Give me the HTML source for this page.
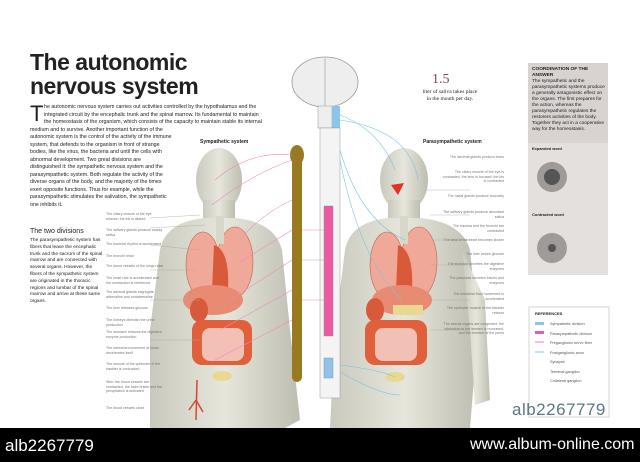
<!DOCTYPE html>
<html><head><meta charset="utf-8"><style>
body{margin:0;width:640px;height:462px;overflow:hidden;background:#fff;font-family:"Liberation Sans",sans-serif;position:relative}
.t{position:absolute;color:#222}
.l{position:absolute;font-size:3.6px;line-height:4.6px;color:#777}
</style></head><body>
<svg width="640" height="462" style="position:absolute;left:0;top:0">
<defs>
<linearGradient id="sk" x1="0" x2="1"><stop offset="0" stop-color="#c9c9bd"/><stop offset=".5" stop-color="#e6e6dc"/><stop offset="1" stop-color="#bdbdb0"/></linearGradient>
</defs>
<g fill="url(#sk)">
<ellipse cx="219" cy="180" rx="23" ry="32"/>
<rect x="203" y="200" width="32" height="30"/>
<path d="M160 250 Q165 222 205 218 L235 218 Q275 222 282 250 L290 330 L300 420 L285 428 L150 428 L150 330 Z"/>
</g>
<g fill="url(#sk)">
<ellipse cx="404" cy="180" rx="24" ry="32"/>
<rect x="388" y="200" width="32" height="30"/>
<path d="M345 250 Q350 222 388 218 L420 218 Q462 222 470 250 L478 330 L470 428 L330 428 L335 330 Z"/>
<path d="M462 250 L485 300 L490 400 L475 405 L470 330Z"/>
</g>
<ellipse cx="203" cy="265" rx="17" ry="33" fill="#f0a898" stroke="#c06050" stroke-width=".6"/>
<ellipse cx="235" cy="262" rx="18" ry="35" fill="#f0a898" stroke="#c06050" stroke-width=".6"/>
<path d="M214 245 Q230 250 228 290 L212 290Z" fill="#d85a3a"/>
<rect x="216" y="216" width="8" height="28" fill="#d8d8c8"/>
<ellipse cx="213" cy="300" rx="30" ry="15" fill="#e98a72"/>
<ellipse cx="199" cy="310" rx="9" ry="12" fill="#d85a3a"/>
<rect x="192" y="320" width="60" height="45" rx="10" fill="#e0603c"/>
<rect x="202" y="328" width="42" height="33" rx="8" fill="#f2c0b4"/>
<ellipse cx="222" cy="376" rx="10" ry="5" fill="#e8d890"/>
<path d="M197 380 L196 420 M196 400 L189 410 M196 400 L203 412" stroke="#d04a30" stroke-width="1.5"/>
<ellipse cx="387" cy="265" rx="17" ry="33" fill="#f0a898" stroke="#c06050" stroke-width=".6"/>
<ellipse cx="419" cy="262" rx="18" ry="35" fill="#f0a898" stroke="#c06050" stroke-width=".6"/>
<path d="M398 245 Q414 250 412 290 L396 290Z" fill="#d85a3a"/>
<rect x="400" y="216" width="8" height="28" fill="#d8d8c8"/>
<ellipse cx="402" cy="300" rx="30" ry="15" fill="#e98a72"/>
<ellipse cx="375" cy="310" rx="9" ry="12" fill="#d85a3a"/>
<rect x="393" y="305" width="30" height="10" fill="#e8d890"/>
<rect x="365" y="320" width="62" height="45" rx="10" fill="#e0603c"/>
<rect x="375" y="328" width="42" height="33" rx="8" fill="#f2c0b4"/>
<ellipse cx="395" cy="377" rx="10" ry="5" fill="#e8d890"/>
<path d="M391 185 L404 183 L398 195Z" fill="#e83020"/>
<ellipse cx="325" cy="82" rx="33" ry="25" fill="#eee" stroke="#999" stroke-width=".8"/>
<path d="M325 58 L325 106" stroke="#999" stroke-width=".6"/>
<rect x="318" y="106" width="14" height="22" fill="#eee" stroke="#999" stroke-width=".5"/>
<rect x="332" y="106" width="8" height="22" fill="#8cc4ea"/>
<g stroke="#888" stroke-width=".4">
<rect x="320" y="128" width="20" height="270" fill="#f4f4f4"/>
<rect x="324" y="206" width="9" height="130" fill="#ee5aa0"/>
<rect x="324" y="358" width="9" height="20" fill="#8cc4ea"/>
</g>
<rect x="292" y="146" width="10" height="236" rx="5" fill="#9a7a20"/>
<ellipse cx="297" cy="155" rx="7" ry="10" fill="#9a7a20"/>
<g fill="none" stroke="#f08ac0" stroke-width=".6">
<path d="M292 155 Q250 150 215 180"/><path d="M292 160 Q250 175 212 205"/>
<path d="M292 200 Q260 215 240 240"/><path d="M292 230 L240 262"/>
<path d="M292 260 L230 300"/><path d="M292 290 L220 330"/><path d="M292 320 L215 360"/>
<path d="M302 230 L324 230"/><path d="M302 260 L324 260"/><path d="M302 300 L324 300"/>
</g>
<g fill="none" stroke="#7ac4e4" stroke-width=".6">
<path d="M340 115 Q380 130 395 170"/><path d="M340 120 Q410 130 418 180"/>
<path d="M340 150 Q360 220 405 240"/><path d="M340 160 Q360 260 402 300"/>
<path d="M340 365 Q380 370 395 377"/><path d="M340 372 Q380 395 400 395"/>
</g>
<g stroke="#aaa" stroke-width=".4">
<path d="M150 218 L200 215"/><path d="M150 228 L205 225"/><path d="M150 245 L200 250"/>
<path d="M150 270 L195 270"/><path d="M150 300 L200 300"/><path d="M150 340 L200 340"/>
<path d="M425 190 L470 190"/><path d="M430 215 L470 215"/><path d="M430 240 L470 240"/>
<path d="M430 265 L470 265"/><path d="M430 300 L470 300"/><path d="M430 330 L470 330"/>
</g>
<rect x="528" y="63" width="80" height="212" fill="#e4e0de"/>
<rect x="528" y="63" width="80" height="80" fill="#d8d2d0"/>
<circle cx="552" cy="177" r="15" fill="#a09a98"/><circle cx="552" cy="177" r="8" fill="#555"/>
<circle cx="552" cy="248" r="15" fill="#a09a98"/><circle cx="552" cy="248" r="4" fill="#555"/>
<rect x="529" y="307" width="80" height="110" fill="#fff" stroke="#bbb" stroke-width=".6"/>
<rect x="535" y="322" width="9" height="3" fill="#8cc4ea"/>
<rect x="535" y="331" width="9" height="3" fill="#ee5aa0"/>
<rect x="535" y="341" width="9" height="2" fill="#f9c0dc"/>
<rect x="535" y="351" width="9" height="2" fill="#bde6f4"/>
<rect x="0" y="428" width="640" height="34" fill="#000"/>
</svg>
<div class="t" style="left:30px;top:50px;font-size:23px;font-weight:bold;line-height:24px;letter-spacing:-.5px">The autonomic<br>nervous system</div>
<div class="t" style="left:30px;top:103px;font-size:22px;line-height:22px">T</div>
<div class="t" style="left:44px;top:104px;width:240px;font-size:5.3px;line-height:7.5px;white-space:nowrap">he autonomic nervous system carries out activities controlled by the hypothalamus and the<br>integrated circuit by the encephalic trunk and the spinal marrow. Its fundamental to maintain<br>the homeostasis of the organism, which consists of the capacity to maintain stable its internal</div>
<div class="t" style="left:30px;top:126.5px;width:142px;font-size:5.3px;line-height:7.5px">medium and to survive. Another important function of the autonomic system is the control of the activity of the immune system, that defends to the organism in front of strange bodies, like the virus, the bacteria and until the cells with abnormal development. Two great divisions are distinguished it: the sympathetic nervous system and the parasympathetic system. Both regulate the activity of the diverse organs of the body, and the majority of the times exert opposite functions. Thus for example, while the parasympathetic stimulates the salivation, the sympathetic one inhibits it.</div>
<div class="t" style="left:30px;top:228px;font-size:7px">The two divisions</div>
<div class="t" style="left:30px;top:238px;width:75px;font-size:4.8px;line-height:6.8px">The parasympathetic system has fibers that leave the encephalic trunk and the sacrum of the spinal marrow and are connected with several organs. However, the fibers of the sympathetic system are originated in the thoracic regions and lumbar of the spinal marrow and arrive at these same organs.</div>
<div class="l" style="left:106px;top:212px;width:58px">The ciliary muscle of the eye relaxes; the iris is dilated</div>
<div class="l" style="left:106px;top:228px;width:58px">The salivary glands produce scanty saliva</div>
<div class="l" style="left:106px;top:242px;width:58px">The tracheal rhythm is accelerated</div>
<div class="l" style="left:106px;top:254px;width:58px">The bronchi relax</div>
<div class="l" style="left:106px;top:264px;width:58px">The blood vessels of the lungs relax</div>
<div class="l" style="left:106px;top:276px;width:58px">The heart rate is accelerated and the contraction is reinforced</div>
<div class="l" style="left:106px;top:290px;width:58px">The adrenal glands segregate adrenaline and noradrenaline</div>
<div class="l" style="left:106px;top:306px;width:58px">The liver releases glucose</div>
<div class="l" style="left:106px;top:318px;width:58px">The kidneys diminish the urine production</div>
<div class="l" style="left:106px;top:330px;width:58px">The stomach reduces the digestive enzyme production</div>
<div class="l" style="left:106px;top:346px;width:58px">The intestinal movement of foods decelerates itself</div>
<div class="l" style="left:106px;top:362px;width:58px">The muscle of the sphincter of the bladder is contracted</div>
<div class="l" style="left:106px;top:380px;width:58px">Skin: the blood vessels are contracted, the hairs bristle and the perspiration is activated</div>
<div class="l" style="left:106px;top:406px;width:58px">The blood vessels close</div>
<div class="l" style="left:440px;top:155px;width:64px;text-align:right">The lacrimal glands produce tears</div>
<div class="l" style="left:440px;top:170px;width:64px;text-align:right">The ciliary muscle of the eye is contracted, the lens is focused; the iris is contracted</div>
<div class="l" style="left:440px;top:194px;width:64px;text-align:right">The nasal glands produce mucosity</div>
<div class="l" style="left:440px;top:210px;width:64px;text-align:right">The salivary glands produce abundant saliva</div>
<div class="l" style="left:440px;top:224px;width:64px;text-align:right">The trachea and the bronchi are contracted</div>
<div class="l" style="left:440px;top:238px;width:64px;text-align:right">The beat of the heart becomes slower</div>
<div class="l" style="left:440px;top:252px;width:64px;text-align:right">The liver stores glucose</div>
<div class="l" style="left:440px;top:262px;width:64px;text-align:right">The stomach secretes the digestive enzymes</div>
<div class="l" style="left:440px;top:276px;width:64px;text-align:right">The pancreas secretes insulin and enzymes</div>
<div class="l" style="left:440px;top:292px;width:64px;text-align:right">The intestinal food movement is accelerated</div>
<div class="l" style="left:440px;top:306px;width:64px;text-align:right">The sphincter muscle of the bladder relaxes</div>
<div class="l" style="left:440px;top:322px;width:64px;text-align:right">The sexual organs are congested; the lubrication in the women is increased, and the erection of the penis</div>
<div class="t" style="left:200px;top:139px;font-size:5px;font-weight:bold">Sympathetic system</div>
<div class="t" style="left:423px;top:139px;font-size:5px;font-weight:bold">Parasympathetic system</div>
<div class="t" style="left:432px;top:72px;font-size:14px;color:#7a4a50;font-family:'Liberation Serif',serif">1.5</div>
<div class="t" style="left:420px;top:89px;width:60px;text-align:center;font-size:5.5px;line-height:6.5px;font-family:'Liberation Serif',serif">liter of saliva takes place in the mouth per day.</div>
<div class="t" style="left:532px;top:67px;width:74px;font-size:4.8px;line-height:6px"><b>COORDINATION OF THE ANSWER</b><br>The sympathetic and the parasympathetic systems produce a generally antagonistic effect on the organs. The first prepares for the action, whereas the parasympathetic regulates the restorers activities of the body. Together they act in a cooperative way for the homeostasis.</div>
<div class="t" style="left:532px;top:146px;font-size:4px;font-weight:bold">Expanded word</div>
<div class="t" style="left:532px;top:212px;font-size:4px;font-weight:bold">Contracted word</div>
<div class="t" style="left:535px;top:311px;font-size:4px;font-weight:bold">REFERENCES</div>
<div class="t" style="left:550px;top:320px;font-size:3.8px;line-height:9.5px;color:#555">Sympathetic division<br>Parasympathetic division<br>Preganglionic nerve fiber<br>Postganglionic axon<br>Synapse<br>Terminal ganglion<br>Collateral ganglion</div>
<div class="t" style="left:512px;top:400px;font-size:17px;color:#5a7880;letter-spacing:.5px">alb2267779</div>
<div class="t" style="left:5px;top:436px;font-size:17px;color:#fff">alb2267779</div>
<div class="t" style="left:470px;top:436px;font-size:16px;color:#fff">www.album-online.com</div>
</body></html>
